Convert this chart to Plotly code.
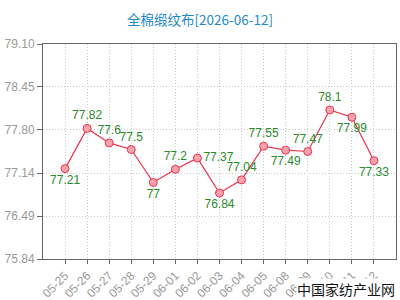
import plotly.graph_objects as go

dates = ["05-25", "05-26", "05-27", "05-28", "05-29", "06-01", "06-02", "06-03",
         "06-04", "06-05", "06-08", "06-09", "06-10", "06-11", "06-12"]
prices = [77.21, 77.82, 77.6, 77.5, 77.0, 77.2, 77.37, 76.84,
          77.04, 77.55, 77.49, 77.47, 78.1, 77.99, 77.33]
label_pos = ["bottom center", "top center", "top center", "top center", "bottom center",
             "top center", "middle right", "bottom center", "top center", "top center",
             "bottom center", "top center", "top center", "bottom center", "bottom center"]
y_ticks = [75.84, 76.49, 77.14, 77.80, 78.45, 79.10]
y_tick_text = ["75.84", "76.49", "77.14", "77.80", "78.45", "79.10"]
title = "全棉缎纹布[2026-06-12]"
watermark = "中国家纺产业网"

fig = go.Figure()
fig.add_trace(go.Scatter(
    x=list(range(len(dates))), y=prices,
    mode="lines+markers+text",
    text=[f"{v:g}" for v in prices],
    textposition=label_pos,
    textfont=dict(color="#2a8a2a", size=12, family="Liberation Sans, Arial"),
    line=dict(color="#e8334f", width=1.2),
    marker=dict(size=8, color="#f7a3ac", line=dict(color="#e8334f", width=1)),
    cliponaxis=False,
    hoverinfo="skip",
))

fig.update_layout(
    width=400, height=300,
    margin=dict(l=43, r=4, t=44, b=41),
    paper_bgcolor="white", plot_bgcolor="white",
    showlegend=False,
    title=dict(text=title, x=0.5, xanchor="center", y=0.932, yanchor="middle",
               font=dict(size=13.5, color="#1f8ac6", family="Noto Sans CJK SC")),
    font=dict(family="Liberation Sans, Arial"),
)
fig.update_xaxes(
    range=[-1, len(dates)],
    tickmode="array", tickvals=list(range(len(dates))), ticktext=dates,
    tickangle=-45, automargin=False,
    tickfont=dict(size=12, color="#999999"),
    ticks="outside", ticklen=4, tickcolor="#666666",
    showline=True, linecolor="#666666", linewidth=1, mirror=True,
    showgrid=True, gridcolor="#c8c8c8", griddash="1px,2px", gridwidth=1,
    zeroline=False, fixedrange=True,
)
fig.update_yaxes(
    range=[y_ticks[0], y_ticks[-1]],
    tickmode="array", tickvals=y_ticks, ticktext=y_tick_text,
    automargin=False,
    tickfont=dict(size=12, color="#999999"),
    ticks="outside", ticklen=5, tickcolor="#666666",
    showline=True, linecolor="#666666", linewidth=1, mirror=True,
    showgrid=True, gridcolor="#c8c8c8", griddash="1px,2px", gridwidth=1,
    zeroline=False, fixedrange=True,
)
fig.add_annotation(
    text=watermark, xref="paper", yref="paper", x=1.0, y=-0.14,
    xanchor="right", yanchor="middle", showarrow=False,
    bgcolor="white", borderpad=0,
    font=dict(size=14, color="#111111", family="Noto Sans CJK SC"),
)
fig.write_html("out.html")
